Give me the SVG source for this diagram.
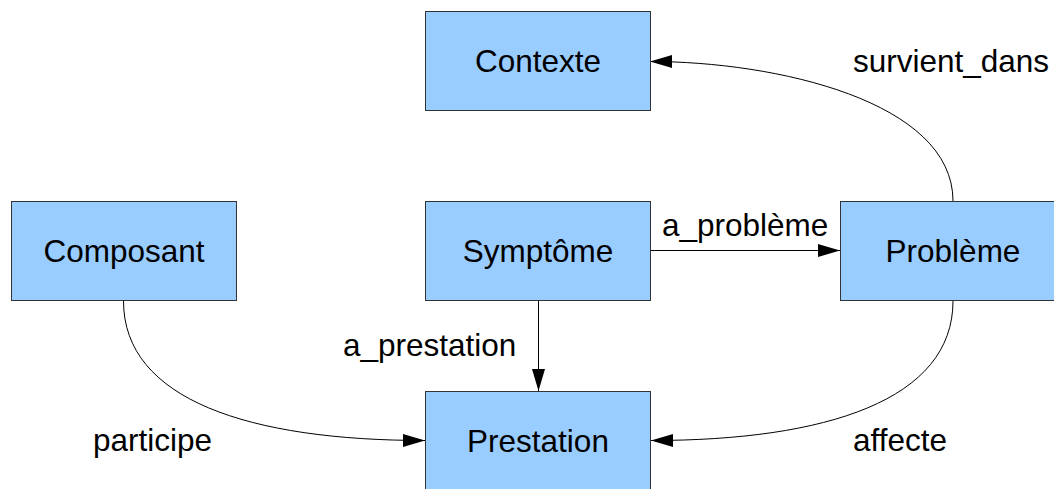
<svg xmlns="http://www.w3.org/2000/svg" width="1054" height="489" viewBox="0 0 1054 489">
  <style>
    .box { fill: #99ccff; stroke: #333333; stroke-width: 1; }
    .lbl { font-family: "Liberation Sans", Arial, sans-serif; font-size: 31.5px; fill: #000000; }
    .mid { text-anchor: middle; }
    .edge { fill: none; stroke: #000000; stroke-width: 1; marker-end: url(#arrow); }
  </style>
  <defs>
    <marker id="arrow" markerUnits="userSpaceOnUse" markerWidth="23" markerHeight="14" refX="22" refY="6.5" orient="auto">
      <path d="M0,0 L22,6.5 L0,13 Z" fill="#000000"/>
    </marker>
  </defs>
  <rect width="1054" height="489" fill="#ffffff"/>

  <g id="connectors">
    <path id="survient_dans" class="edge" d="M953,201 C953,101 775,61.5 650,61.5"/>
    <path id="a_probleme" class="edge" d="M650,250.5 L840,250.5"/>
    <path id="a_prestation" class="edge" d="M538.5,301 L538.5,391"/>
    <path id="participe" class="edge" d="M123.5,301 C123.5,400 250,440.5 425,440.5"/>
    <path id="affecte" class="edge" d="M953,301 C953,400 826,440.5 651,440.5"/>
    <text class="lbl" x="853" y="72">survient_dans</text>
    <text class="lbl" x="662" y="236">a_problème</text>
    <text class="lbl" x="343" y="356">a_prestation</text>
    <text class="lbl" x="93" y="451">participe</text>
    <text class="lbl" x="853" y="451">affecte</text>
  </g>

  <g id="contexte">
    <rect class="box" x="425.5" y="11.5" width="225" height="99"/>
    <text class="lbl mid" x="538" y="72">Contexte</text>
  </g>
  <g id="composant">
    <rect class="box" x="11.5" y="201.5" width="225" height="99"/>
    <text class="lbl mid" x="124" y="262">Composant</text>
  </g>
  <g id="symptome">
    <rect class="box" x="425.5" y="201.5" width="225" height="99"/>
    <text class="lbl mid" x="538" y="262">Symptôme</text>
  </g>
  <g id="probleme">
    <rect class="box" x="840.5" y="201.5" width="225" height="99"/>
    <text class="lbl mid" x="953" y="262">Problème</text>
  </g>
  <g id="prestation">
    <rect class="box" x="425.5" y="391.5" width="225" height="99"/>
    <text class="lbl mid" x="538" y="452">Prestation</text>
  </g>
</svg>
